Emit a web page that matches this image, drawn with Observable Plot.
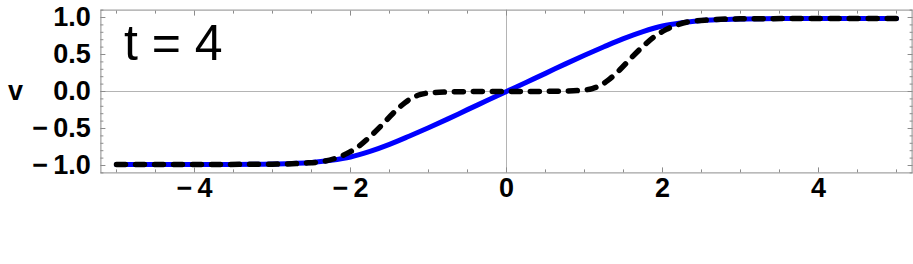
<!DOCTYPE html>
<html>
<head>
<meta charset="utf-8">
<script src="https://cdn.jsdelivr.net/npm/d3@7"></script>
<script src="https://cdn.jsdelivr.net/npm/@observablehq/plot@0.6"></script>
<style>
  html, body { margin: 0; padding: 0; background: #fff; }
  #chart svg { display: block; }
</style>
</head>
<body>
<div id="chart"></div>
<script>
// Solid blue curve
const blueX = [-5, -4, -3.5, -3, -2.75, -2.5, -2.25, -2, -1.75, -1.5, -1.25, -1, -0.75, -0.5, -0.25, 0,
               0.25, 0.5, 0.75, 1, 1.25, 1.5, 1.75, 2, 2.25, 2.5, 2.75, 3, 3.5, 4, 5];
const blueV = [-0.986, -0.986, -0.985, -0.98, -0.972, -0.96, -0.93, -0.885, -0.81, -0.715, -0.605, -0.49, -0.37, -0.245, -0.123, 0,
               0.123, 0.245, 0.37, 0.49, 0.605, 0.715, 0.81, 0.885, 0.93, 0.96, 0.972, 0.98, 0.985, 0.986, 0.986];
// Dashed black curve
const dashX = [-5, -4, -3, -2.6, -2.35, -2.2, -2.05, -1.9, -1.75, -1.6, -1.45, -1.3, -1.2, -1.1, -1, -0.75, -0.5, 0,
               0.5, 0.75, 1, 1.1, 1.2, 1.3, 1.45, 1.6, 1.75, 1.9, 2.05, 2.2, 2.35, 2.6, 3, 4, 5];
const dashV = [-0.986, -0.986, -0.982, -0.968, -0.945, -0.905, -0.84, -0.745, -0.61, -0.455, -0.29, -0.15, -0.08, -0.04, -0.02, -0.006, -0.002, 0,
               0.002, 0.006, 0.02, 0.04, 0.08, 0.15, 0.29, 0.455, 0.61, 0.745, 0.84, 0.905, 0.945, 0.968, 0.982, 0.986, 0.986];

const xMajorTicks = [-4, -2, 0, 2, 4];
const xMinorTicks = [-5, -4.5, -3.5, -3, -2.5, -1.5, -1, -0.5, 0.5, 1, 1.5, 2.5, 3, 3.5, 4.5, 5];
const yMajorTicks = [-1, -0.5, 0, 0.5, 1];
const yMinorTicks = [-1.1, -0.9, -0.8, -0.7, -0.6, -0.4, -0.3, -0.2, -0.1, 0.1, 0.2, 0.3, 0.4, 0.6, 0.7, 0.8, 0.9, 1.1];
const yLabel = "v";
const panelLabel = "t = 4";

const blue = blueX.map((x, i) => ({x, v: blueV[i]}));
const dash = dashX.map((x, i) => ({x, v: dashV[i]}));

const frameColor = "#8c8c8c";
const font = "Liberation Sans, Arial, sans-serif";
const empty = () => "";
const minusFix = (s) => s.replace("−", "−\u2009");
const fmtX = (d) => minusFix(d3.format("d")(d));
const fmtY = (d) => minusFix(d3.format(".1f")(d));

const chart = Plot.plot({
  width: 913,
  height: 264,
  marginLeft: 100.4,
  marginRight: 1.4,
  marginTop: 9.6,
  marginBottom: 91.6,
  style: {fontFamily: font, background: "#fff"},
  x: {domain: [-5.2, 5.2], axis: null},
  y: {domain: [-1.1, 1.1], axis: null},
  marks: [
    Plot.ruleX([0], {stroke: "#b4b4b4", strokeWidth: 1}),
    Plot.ruleY([0], {stroke: "#b4b4b4", strokeWidth: 1}),
    Plot.line(blue, {x: "x", y: "v", stroke: "#0000ff", strokeWidth: 5, curve: "monotone-x"}),
    Plot.line(dash, {x: "x", y: "v", stroke: "#000", strokeWidth: 5.5, strokeDasharray: "9,10", curve: "monotone-x"}),
    Plot.frame({stroke: frameColor, strokeWidth: 1}),
    // bottom
    Plot.axisX(xMajorTicks, {anchor: "bottom", tickSize: -5, stroke: frameColor, tickPadding: 10,
      tickFormat: fmtX, fontSize: 27, fontWeight: "bold", fill: "#000", label: null}),
    Plot.axisX(xMinorTicks, {anchor: "bottom", tickSize: -3, stroke: frameColor, tickFormat: empty, label: null}),
    // top
    Plot.axisX(xMajorTicks, {anchor: "top", tickSize: -5, stroke: frameColor, tickFormat: empty, label: null}),
    Plot.axisX(xMinorTicks, {anchor: "top", tickSize: -3, stroke: frameColor, tickFormat: empty, label: null}),
    // left
    Plot.axisY(yMajorTicks, {anchor: "left", tickSize: -5, stroke: frameColor, tickPadding: 15,
      tickFormat: fmtY, fontSize: 27, fontWeight: "bold", fill: "#000", label: null}),
    Plot.axisY(yMinorTicks, {anchor: "left", tickSize: -3, stroke: frameColor, tickFormat: empty, label: null}),
    // right
    Plot.axisY(yMajorTicks, {anchor: "right", tickSize: -5, stroke: frameColor, tickFormat: empty, label: null}),
    Plot.axisY(yMinorTicks, {anchor: "right", tickSize: -3, stroke: frameColor, tickFormat: empty, label: null}),
    Plot.text([yLabel], {frameAnchor: "left", dx: -93, textAnchor: "start", fontSize: 27, fontWeight: "bold", fill: "#000"}),
    Plot.text([panelLabel], {frameAnchor: "top-left", dx: 23, dy: 14.4, lineAnchor: "top", textAnchor: "start", fontSize: 50, fill: "#000"})
  ]
});
document.getElementById("chart").appendChild(chart);
</script>
</body>
</html>
